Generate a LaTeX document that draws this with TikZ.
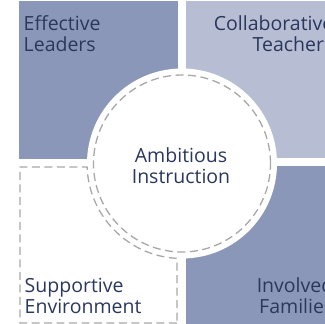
\documentclass[tikz,border=0pt]{standalone}
\usepackage{fontspec}
\setmainfont{Open Sans}
\definecolor{darkfill}{HTML}{8A97B9}
\definecolor{lightfill}{HTML}{B7BDD3}
\definecolor{txt}{HTML}{2A385C}
\definecolor{dashgray}{HTML}{A8A8A8}
\begin{document}
\begin{tikzpicture}[x=1pt,y=1pt,
  lbl/.style={inner sep=0pt,text=txt,font=\fontsize{19.5}{21}\selectfont},
  dashline/.style={draw=dashgray,line width=1.3pt,dash pattern=on 8pt off 4.5pt}]
\useasboundingbox (0,0) rectangle (325,324);
\begin{scope}
\clip (0,0) rectangle (325,324);
% quadrants
\fill[darkfill] (19,165) rectangle (178,323);
\fill[lightfill] (186,166) rectangle (340,322.5);
\fill[darkfill] (186,-6) rectangle (340,158);
% white disc
\fill[white] (182,160.5) circle[radius=95];
% supportive environment dashed outline with cut-out
\draw[dashline] (177,1) -- (20,1) -- (20,157) -- (87.1,157)
  arc[start angle=182.11,end angle=266.98,radius=95] -- cycle;
% inner dashed circle
\draw[dashline] (182,160.5) circle[radius=88.5];
\end{scope}
\node[lbl,anchor=base west,align=left] (el) at (23.5,272.3) {Effective\\Leaders};
\node[lbl,anchor=base east,align=right] (ct) at (333.5,272.3) {Collaborative\\Teachers};
\node[lbl,anchor=base,align=center] (ai) at (181,140.8) {Ambitious\\Instruction};
\node[lbl,anchor=base west,align=left] (se) at (24.5,10.7) {Supportive\\Environment};
\node[lbl,anchor=base east,align=right] (if) at (333.5,10.7) {Involved\\Families};
\end{tikzpicture}
\end{document}
